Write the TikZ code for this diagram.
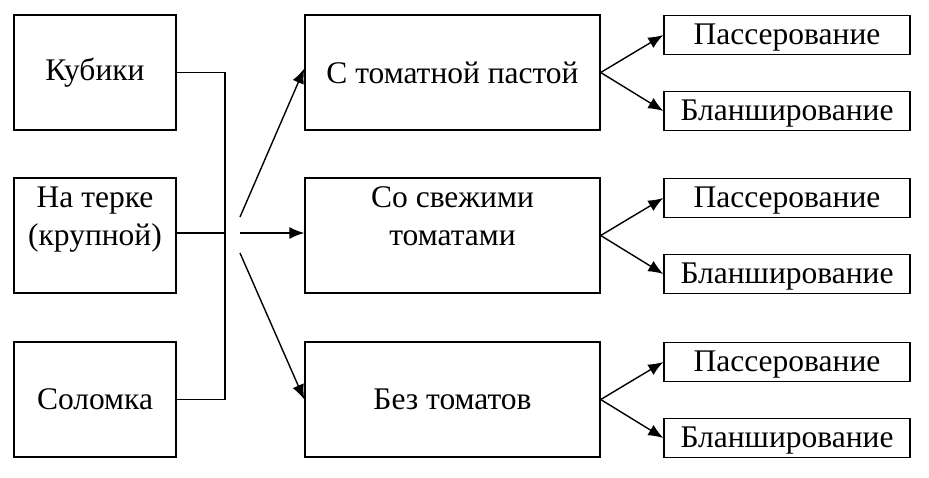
\documentclass[tikz,border=0pt]{standalone}
\usepackage{fontspec}
\setmainfont{Liberation Serif}
\usetikzlibrary{arrows.meta}
\tikzset{
  cut-box/.style={draw, line width=1.4pt, minimum width=162pt, minimum height=115pt, align=center, inner sep=2pt},
  two-line/.style={text height=65pt, text depth=46pt},
  sauce-box/.style={cut-box, minimum width=295pt},
  heat-box/.style={cut-box, minimum width=246pt, minimum height=39pt, text height=27pt, text depth=8pt},
  flow-path/.style={line width=1.4pt, -{Latex[length=15pt, width=12pt]}},
  join-path/.style={line width=1.4pt},
}
\begin{document}
\begin{tikzpicture}[x=1pt, y=-1pt, font=\fontsize{31.5}{38}\selectfont]
\useasboundingbox (0,0) rectangle (929,477);
% cutting
\node[cut-box] (cubes) at (95,72.5) {Кубики};
\node[cut-box, two-line] (grated) at (95,235.5) {На терке\\(крупной)};
\node[cut-box] (strips) at (95,399.5) {Соломка};
% bracket
\coordinate (join) at (225,233);
\draw[join-path] (cubes.east) -| (join) |- (strips.east);
\draw[join-path] (grated.east |- join) -- (join);
% sauces
\node[sauce-box] (paste) at (452.5,72.5) {С томатной пастой};
\node[sauce-box, two-line] (fresh) at (452.5,235.5) {Со свежими\\томатами};
\node[sauce-box] (plain) at (452.5,399.5) {Без томатов};
\coordinate (fan-up) at (240,217);
\coordinate (fan-mid) at (240,233);
\coordinate (fan-down) at (240,253);
\draw[flow-path] (fan-up) -- ([yshift=4pt]paste.west);
\draw[flow-path] (fan-mid) -- (fresh.west |- fan-mid);
\draw[flow-path] (fan-down) -- (plain.west);
% heat treatment
\foreach \sauce/\y in {paste/0, fresh/163, plain/327} {
  \node[heat-box] (\sauce-fry) at (787,35+\y) {Пассерование};
  \node[heat-box] (\sauce-blanch) at (787,111+\y) {Бланширование};
  \draw[flow-path] (\sauce.east) -- (\sauce-fry.west);
  \draw[flow-path] (\sauce.east) -- (\sauce-blanch.west);
}
\end{tikzpicture}
\end{document}
